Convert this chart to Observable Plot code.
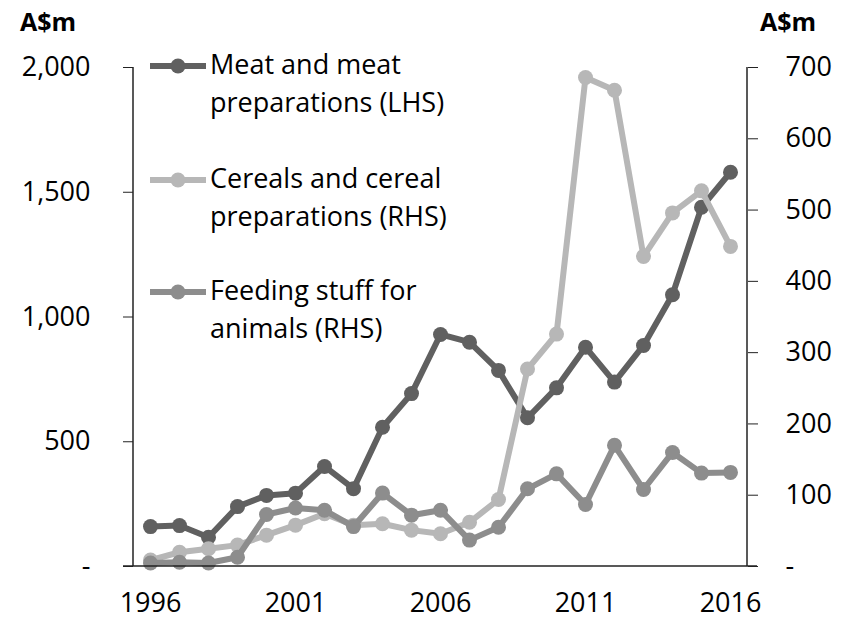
<!DOCTYPE html>
<html>
<head>
<meta charset="utf-8">
<script src="https://cdn.jsdelivr.net/npm/d3@7"></script>
<script src="https://cdn.jsdelivr.net/npm/@observablehq/plot@0.6"></script>
<style>
  html, body { margin: 0; padding: 0; background: #fff; }
  #chart { width: 850px; height: 621px; }
  svg { font-family: "Open Sans", sans-serif; }
</style>
</head>
<body>
<div id="chart"></div>
<script>
const years = d3.range(1996, 2017);
const meat = [160, 164, 117, 240, 285, 294, 401, 312, 558, 693, 930, 899, 786, 596, 716, 879, 739, 886, 1089, 1440, 1580];
const cereals = [9, 20, 25, 30, 44, 58, 74, 58, 60, 51, 46, 62, 94, 277, 326, 686, 668, 435, 496, 527, 449];
const feed = [5, 6, 5, 13, 73, 82, 79, 56, 103, 72, 79, 37, 55, 109, 130, 87, 170, 108, 160, 131, 132];
const xTickLabels = [1996, 2001, 2006, 2011, 2016];
const leftTicks = [0, 500, 1000, 1500, 2000];
const rightTicks = [0, 100, 200, 300, 400, 500, 600, 700];
const seriesNames = ["Meat and meat\npreparations (LHS)", "Cereals and cereal\npreparations (RHS)", "Feeding stuff for\nanimals (RHS)"];
const seriesColors = ["#606060", "#b7b7b7", "#8d8d8d"];
const unitLabel = "A$m";

const LMAX = 2000, RMAX = 700;
const k = LMAX / RMAX;
const rows = [];
years.forEach((y, i) => {
  rows.push({year: y, v: meat[i], s: 0});
  rows.push({year: y, v: cereals[i] * k, s: 1});
  rows.push({year: y, v: feed[i] * k, s: 2});
});
const fmtL = d => d === 0 ? "-" : d3.format(",")(d);
const fmtR = d => d === 0 ? "-" : d3.format(",")(Math.round(d / k));

const W = 850, H = 621, mL = 133, mR = 103, mT = 67, mB = 55;
const FS = 27;
const LW = 6, DR = 7.5;

const marks = [];
[0, 1, 2].forEach(s => {
  const d = rows.filter(r => r.s === s);
  marks.push(Plot.line(d, {x: "year", y: "v", stroke: seriesColors[s], strokeWidth: LW, strokeLinejoin: "round"}));
  marks.push(Plot.dot(d, {x: "year", y: "v", fill: seriesColors[s], r: DR}));
});

const chart = Plot.plot({
  width: W, height: H,
  marginLeft: mL, marginRight: mR, marginTop: mT, marginBottom: mB,
  style: {fontSize: FS + "px", fontFamily: "Open Sans", color: "#000", background: "#fff", overflow: "visible"},
  x: {type: "point", domain: years, padding: 0.5, label: null},
  y: {domain: [0, LMAX], label: null},
  marks: [
    ...marks,
    Plot.axisY({anchor: "left", ticks: leftTicks, tickFormat: fmtL, tickSize: 10, tickPadding: 33, label: null, stroke: "#222", fontSize: FS}),
    Plot.axisY(rightTicks.map(d => d * k), {anchor: "right", tickFormat: fmtR, tickSize: 10, tickPadding: 28, label: null, stroke: "#222", fontSize: FS, textAnchor: "start"}),
    Plot.axisX({ticks: xTickLabels, tickFormat: d => String(d), tickSize: 0, tickPadding: 26, label: null, fontSize: FS}),
  ]
});
document.getElementById("chart").appendChild(chart);

const svg = d3.select(chart);
const gl = svg.append("g").attr("stroke", "#222").attr("stroke-width", 1.5);
gl.append("line").attr("x1", mL).attr("x2", mL).attr("y1", mT).attr("y2", H - mB);
gl.append("line").attr("x1", W - mR).attr("x2", W - mR).attr("y1", mT).attr("y2", H - mB);
gl.append("line").attr("x1", mL - 10).attr("x2", W - mR + 10).attr("y1", H - mB).attr("y2", H - mB);

svg.append("text").attr("x", 20).attr("y", 31).attr("text-anchor", "start").attr("font-weight", "bold").attr("font-size", 25).attr("fill", "#000").text(unitLabel);
svg.append("text").attr("x", 760).attr("y", 31).attr("text-anchor", "start").attr("font-weight", "bold").attr("font-size", 25).attr("fill", "#000").text(unitLabel);

const legY = [66, 180, 292];
seriesNames.forEach((name, i) => {
  const g = svg.append("g");
  g.append("line").attr("x1", 150).attr("x2", 206).attr("y1", legY[i]).attr("y2", legY[i])
    .attr("stroke", seriesColors[i]).attr("stroke-width", LW);
  g.append("circle").attr("cx", 178).attr("cy", legY[i]).attr("r", DR).attr("fill", seriesColors[i]);
  const t = g.append("text").attr("x", 210).attr("y", legY[i] + 8).attr("text-anchor", "start").attr("font-size", FS).attr("fill", "#000");
  name.split("\n").forEach((ln, j) => {
    t.append("tspan").attr("x", 210).attr("dy", j === 0 ? 0 : 38).text(ln);
  });
});
</script>
</body>
</html>
